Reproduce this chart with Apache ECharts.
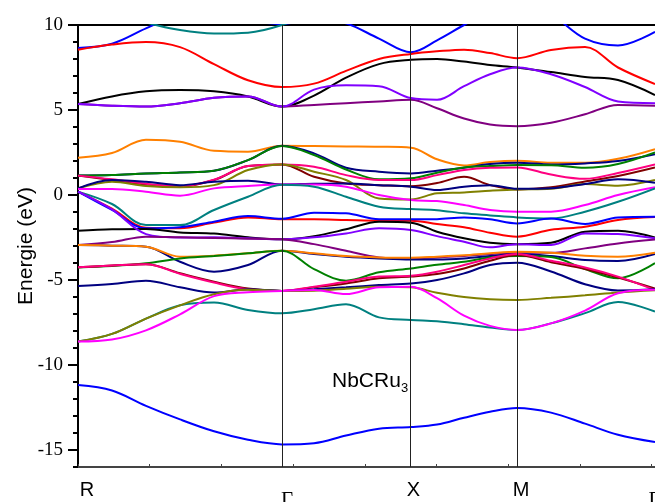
<!DOCTYPE html>
<html><head><meta charset="utf-8">
<script src="https://cdn.jsdelivr.net/npm/echarts@6/dist/echarts.min.js"></script>
<style>html,body{margin:0;padding:0;background:#fff}#c{width:655px;height:502px}</style>
</head><body><div id="c"></div>
<script>
// k-path sample points (R ... Γ ... X ... M ... Γ)
const kPoints = [0, 0.474, 0.948, 1.423, 1.897, 2.371, 2.845, 3.292, 3.738, 4.198, 4.644, 5.007, 5.384, 5.746, 6.123, 6.597, 7.071, 7.531, 8.047];
const symK = [0, 2.845, 4.644, 6.123, 8.0];
const symLabels = ['R', 'Γ', 'X', 'M', 'Γ'];
const yTicks = [-15, -10, -5, 0, 5, 10];

// band energies (eV) at kPoints
const bandBlueTop   = [8.65, 8.9, 9.8, 10.6, 10.8, 10.3, 10.05, 10.4, 10.1, 9.2, 8.4, 9.1, 10.0, 10.8, 11.2, 10.6, 9.2, 8.8, 9.6];
const bandTealTop   = [11.5, 10.8, 10.15, 9.7, 9.5, 9.55, 10.0, 10.8, 11.5, 11.8, 12, 12, 12, 12, 12, 12, 12, 12, 12];
const bandRedTop    = [8.55, 8.85, 9.0, 8.7, 7.7, 6.75, 6.35, 6.55, 7.3, 8.0, 8.3, 8.45, 8.55, 8.35, 8.05, 8.53, 8.7, 7.5, 6.53];
const bandBlack1    = [5.35, 5.8, 6.1, 6.18, 6.1, 5.8, 5.2, 5.85, 6.9, 7.7, 7.95, 8.0, 7.85, 7.65, 7.5, 7.23, 6.94, 6.76, 5.88];
const bandViolet1   = [5.35, 5.25, 5.2, 5.4, 5.72, 5.8, 5.2, 6.2, 6.45, 6.4, 5.7, 5.6, 6.4, 7.1, 7.5, 7.1, 6.35, 5.5, 5.4];
const bandPurple1   = [5.35, 5.25, 5.2, 5.4, 5.72, 5.8, 5.2, 5.3, 5.4, 5.5, 5.6, 5.1, 4.5, 4.15, 4.05, 4.25, 4.75, 5.3, 5.25];
const bandOrange1   = [2.19, 2.47, 3.25, 3.13, 2.6, 2.55, 2.9, 2.88, 2.86, 2.84, 2.78, 2.1, 1.74, 1.94, 2.02, 1.9, 1.9, 2.13, 2.7];
const bandNavy1     = [1.14, 1.18, 1.27, 1.33, 1.43, 2.05, 2.9, 2.45, 1.6, 1.37, 1.27, 1.43, 1.6, 1.82, 1.9, 1.8, 1.86, 2.0, 2.4];
const bandGreen1    = [1.14, 1.18, 1.27, 1.33, 1.43, 2.05, 2.88, 2.35, 1.5, 0.92, 0.98, 1.31, 1.62, 1.7, 1.76, 1.75, 1.6, 1.82, 2.5];
const bandPink1     = [1.14, 0.92, 0.66, 0.52, 0.9, 1.7, 1.8, 1.66, 1.17, 0.88, 0.88, 1.17, 1.47, 1.6, 1.62, 1.2, 0.95, 1.3, 1.8];
const bandMaroon1   = [1.14, 0.88, 0.62, 0.49, 0.88, 1.7, 1.8, 1.07, 0.68, 0.58, 0.51, 0.7, 1.07, 0.58, 0.33, 0.45, 0.8, 1.12, 1.62];
const bandOlive1    = [0.39, 0.78, 0.53, 0.45, 0.58, 1.47, 1.8, 1.37, 0.88, -0.2, -0.26, 0.1, 0.15, 0.25, 0.33, 0.37, 0.64, 0.55, 0.88];
const bandNavy2     = [0.39, 0.88, 0.78, 0.58, 0.78, 0.84, 0.62, 0.66, 0.68, 0.58, 0.49, 0.29, 0.49, 0.58, 0.37, 0.4, 0.65, 0.92, 0.72];
const bandMagenta1  = [0.35, 0.35, 0.19, -0.04, 0.39, 0.53, 0.62, 0.62, 0.49, 0.0, -0.3, -0.36, -0.59, -0.88, -0.98, -0.98, -0.59, 0.0, 0.45];
const bandTeal1     = [0.2, -0.53, -1.77, -1.77, -0.88, -0.1, 0.6, 0.49, -0.1, -0.69, -0.83, -0.89, -1.08, -1.2, -1.32, -1.38, -0.98, -0.4, 0.39];
const bandBlue1     = [0.2, -0.88, -1.96, -1.9, -1.57, -1.24, -1.4, -1.04, -1.08, -1.43, -1.43, -1.42, -1.32, -1.43, -1.67, -1.38, -1.7, -1.33, -1.28];
const bandRed1      = [0.2, -0.8, -1.92, -1.95, -1.62, -1.32, -1.43, -1.43, -1.47, -1.51, -1.51, -1.71, -1.9, -2.22, -2.45, -2.05, -1.87, -1.47, -1.3];
const bandBlack2    = [-2.1, -2.02, -2.0, -2.2, -2.27, -2.49, -2.61, -2.42, -2.02, -1.57, -1.63, -2.16, -2.55, -2.81, -2.89, -2.81, -2.16, -2.1, -2.5];
const bandViolet2   = [0.2, -0.85, -2.3, -2.5, -2.49, -2.55, -2.61, -2.49, -2.26, -1.96, -2.06, -2.42, -2.75, -3.08, -2.9, -2.94, -2.26, -2.3, -2.55];
const bandPurple2   = [-2.94, -2.77, -2.45, -2.49, -2.53, -2.57, -2.61, -2.89, -3.28, -3.67, -3.73, -3.67, -3.59, -3.47, -3.4, -3.4, -3.14, -2.85, -2.62];
const bandOrange2   = [-2.94, -2.98, -3.04, -3.63, -3.57, -3.43, -3.28, -3.43, -3.59, -3.67, -3.69, -3.63, -3.55, -3.43, -3.34, -3.4, -3.57, -3.63, -3.4];
const bandNavy3     = [-2.94, -2.98, -3.04, -3.93, -4.51, -4.12, -3.28, -3.47, -3.63, -3.73, -3.79, -3.79, -3.73, -3.59, -3.47, -3.59, -3.83, -3.88, -3.47];
const bandGreen2    = [-4.26, -4.18, -4.02, -3.73, -3.59, -3.43, -3.28, -4.36, -5.04, -4.55, -4.32, -4.1, -3.93, -3.67, -3.59, -3.65, -4.35, -4.9, -4.0];
const bandPink2     = [-4.25, -4.15, -4.07, -4.64, -5.15, -5.55, -5.64, -5.4, -5.1, -4.8, -4.75, -4.51, -4.12, -3.73, -3.47, -3.87, -4.26, -4.8, -5.59];
const bandMaroon2   = [-4.25, -4.15, -4.07, -4.6, -5.1, -5.5, -5.64, -5.43, -5.2, -4.9, -4.8, -4.65, -4.32, -3.87, -3.53, -3.95, -4.35, -4.85, -5.5];
const bandNavy4     = [-5.35, -5.23, -5.04, -5.43, -5.74, -5.55, -5.64, -5.55, -5.43, -5.3, -5.2, -5.0, -4.61, -4.12, -3.98, -4.5, -5.25, -5.62, -5.55];
const bandMagenta2  = [-8.62, -8.5, -7.96, -7.02, -5.95, -5.72, -5.64, -5.59, -5.83, -5.43, -5.4, -6.07, -7.1, -7.7, -7.94, -7.55, -6.8, -5.78, -5.58];
const bandOlive2    = [-8.62, -8.17, -7.27, -6.49, -5.84, -5.58, -5.64, -5.63, -5.51, -5.4, -5.43, -5.75, -6.0, -6.13, -6.17, -6.05, -5.9, -5.73, -5.6];
const bandTeal2     = [-8.62, -8.17, -7.27, -6.49, -6.33, -6.76, -6.96, -6.72, -6.43, -7.2, -7.35, -7.43, -7.6, -7.8, -7.94, -7.55, -6.95, -6.3, -6.86];
const bandBlueLow   = [-11.18, -11.5, -12.4, -13.2, -13.9, -14.4, -14.67, -14.6, -14.15, -13.75, -13.65, -13.5, -13.1, -12.75, -12.53, -12.8, -13.45, -14.1, -14.53];

const bandList = [
  [bandBlueTop, '#0000ff'], [bandTealTop, '#008080'], [bandRedTop, '#ff0000'],
  [bandBlack1, '#000000'], [bandPurple1, '#800080'], [bandViolet1, '#8000ff'],
  [bandOrange1, '#ff8000'], [bandNavy1, '#000080'], [bandGreen1, '#008000'],
  [bandMaroon1, '#800000'], [bandPink1, '#ff0080'], [bandOlive1, '#808000'],
  [bandNavy2, '#000080'], [bandMagenta1, '#ff00ff'], [bandTeal1, '#008080'],
  [bandRed1, '#ff0000'], [bandBlue1, '#0000ff'], [bandBlack2, '#000000'],
  [bandViolet2, '#8000ff'], [bandPurple2, '#800080'], [bandNavy3, '#000080'],
  [bandOrange2, '#ff8000'], [bandGreen2, '#008000'], [bandMaroon2, '#800000'],
  [bandPink2, '#ff0080'], [bandNavy4, '#000080'], [bandTeal2, '#008080'],
  [bandOlive2, '#808000'], [bandMagenta2, '#ff00ff'], [bandBlueLow, '#0000ff']
];

const chart = echarts.init(document.getElementById('c'), null, {renderer: 'canvas'});

const series = bandList.map(([vals, color]) => ({
  type: 'line',
  data: kPoints.map((k, i) => [k, vals[i]]),
  showSymbol: false,
  smooth: 0.35,
  silent: true,
  lineStyle: {color: color, width: 2},
  z: 3
}));
series.push({
  type: 'line', data: [], silent: true, z: 2,
  markLine: {
    symbol: 'none', silent: true, label: {show: false},
    lineStyle: {color: '#222', width: 1, type: 'solid'},
    data: symK.slice(1, 4).map(k => ({xAxis: k}))
  }
});

const richLab = {
  r: {fontFamily: 'Liberation Sans', fontSize: 20, color: '#000', padding: [0, 0, 0, 18]},
  g: {fontFamily: 'Liberation Serif', fontSize: 21, color: '#000', padding: [10, 0, 0, 10]},
  x: {fontFamily: 'Liberation Sans', fontSize: 20, color: '#000', padding: [0, 0, 0, 5]},
  m: {fontFamily: 'Liberation Sans', fontSize: 20, color: '#000', padding: [0, 0, 0, 8]},
  h: {fontFamily: 'Liberation Serif', fontSize: 21, color: '#000', padding: [10, 0, 0, 6]}
};
const richKeys = ['r', 'g', 'x', 'm', 'h'];

chart.setOption({
  animation: false,
  backgroundColor: '#fff',
  grid: {left: 78, right: 0, top: 25, bottom: 35, containLabel: false, outerBoundsMode: 'none'},
  xAxis: [{
    type: 'value', min: 0, max: 8.047, interval: 1, position: 'bottom',
    axisLine: {show: true, onZero: false, lineStyle: {color: '#444', width: 2}},
    axisTick: {show: true, inside: true, length: 3, lineStyle: {color: '#444', width: 1}},
    splitLine: {show: false},
    axisLabel: {
      customValues: symK, margin: 13, hideOverlap: false,
      formatter: function (v) {
        for (let i = 0; i < symK.length; i++) {
          if (Math.abs(v - symK[i]) < 1e-6) return '{' + richKeys[i] + '|' + symLabels[i] + '}';
        }
        return '';
      },
      rich: richLab
    }
  }, {
    type: 'value', min: 0, max: 8.047, position: 'top',
    axisLine: {show: true, onZero: false, lineStyle: {color: '#000', width: 2}},
    axisTick: {show: false}, axisLabel: {show: false}, splitLine: {show: false}
  }],
  yAxis: [{
    type: 'value', min: -16, max: 10, position: 'left',
    name: 'Energie (eV)', nameLocation: 'middle', nameGap: 41, nameRotate: 90, nameMoveOverlap: false,
    nameTextStyle: {fontFamily: 'Liberation Sans', fontSize: 21, color: '#000'},
    axisLine: {show: true, onZero: false, lineStyle: {color: '#000', width: 2}},
    axisTick: {show: true, customValues: yTicks, length: 10, lineStyle: {color: '#000', width: 2}},
    axisLabel: {customValues: yTicks, margin: 15, fontFamily: 'Liberation Serif', fontSize: 19, color: '#000'},
    splitLine: {show: false}
  }, {
    type: 'value', min: -16, max: 10, interval: 1, position: 'left',
    axisLine: {show: false, onZero: false},
    axisTick: {show: true, length: 5, lineStyle: {color: '#000', width: 2}},
    axisLabel: {show: false}, splitLine: {show: false}
  }],
  graphic: [
    {type: 'text', left: 332, top: 371, style: {text: 'NbCRu', font: '21px "Liberation Sans"', fill: '#000'}},
    {type: 'text', left: 401, top: 382, style: {text: '3', font: '13px "Liberation Sans"', fill: '#000'}}
  ],
  series: series
});
</script></body></html>
